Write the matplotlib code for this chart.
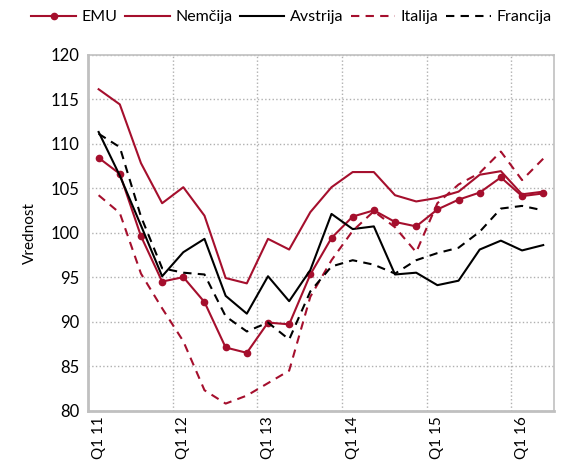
import numpy as np
import matplotlib
matplotlib.use('Agg')
import matplotlib.pyplot as plt

plt.rcParams['font.family'] = ['Lato', 'DejaVu Sans']

# Quarters Q1 11 .. Q2 16
quarters = ['Q1 11', 'Q2 11', 'Q3 11', 'Q4 11',
            'Q1 12', 'Q2 12', 'Q3 12', 'Q4 12',
            'Q1 13', 'Q2 13', 'Q3 13', 'Q4 13',
            'Q1 14', 'Q2 14', 'Q3 14', 'Q4 14',
            'Q1 15', 'Q2 15', 'Q3 15', 'Q4 15',
            'Q1 16', 'Q2 16']

emu = [108.4, 106.6, 99.6, 94.5, 95.0, 92.2, 87.1, 86.5, 89.9, 89.7, 95.3,
       99.4, 101.8, 102.5, 101.2, 100.7, 102.6, 103.7, 104.5, 106.2, 104.1, 104.4]
nemcija = [116.1, 114.4, 107.8, 103.3, 105.1, 101.9, 94.9, 94.3, 99.3, 98.1, 102.3,
           105.1, 106.8, 106.8, 104.2, 103.5, 103.9, 104.6, 106.5, 106.9, 104.3, 104.6]
avstrija = [111.3, 106.4, 100.8, 95.1, 97.8, 99.3, 92.9, 90.9, 95.1, 92.3, 95.8,
            102.1, 100.4, 100.7, 95.3, 95.5, 94.1, 94.6, 98.1, 99.1, 98.0, 98.6]
italija = [104.2, 102.2, 95.4, 91.5, 87.8, 82.3, 80.8, 81.7, 83.1, 84.5, 92.8,
           96.9, 100.2, 102.4, 100.6, 97.8, 103.3, 105.4, 106.7, 109.1, 105.9, 108.3]
francija = [111.1, 109.6, 101.8, 96.0, 95.5, 95.3, 90.6, 88.9, 89.9, 88.0, 93.4,
            96.2, 96.9, 96.4, 95.4, 96.9, 97.7, 98.3, 100.1, 102.7, 103.0, 102.5]

red = '#a50f2d'
x = np.arange(len(quarters))

fig = plt.figure(figsize=(5.68, 4.62), dpi=100)
ax = fig.add_axes([0.155, 0.111, 0.82, 0.771])

ax.plot(x, emu, color=red, lw=1.5, marker='o', ms=4.5, label='EMU')
ax.plot(x, nemcija, color=red, lw=1.5, label='Nemčija')
ax.plot(x, avstrija, color='black', lw=1.5, label='Avstrija')
ax.plot(x, italija, color=red, lw=1.5, ls=(0, (4, 3)), label='Italija')
ax.plot(x, francija, color='black', lw=1.5, ls=(0, (4, 3)), label='Francija')

ax.set_xlim(-0.5, len(quarters) - 0.5)
ax.set_ylim(80, 120)
ax.set_yticks(np.arange(80, 121, 5))
ax.set_xticks(x[::4])
ax.set_xticklabels(quarters[::4], rotation=90)
ax.set_xticks(np.arange(3.5, len(quarters), 4), minor=True)
ax.tick_params(axis='y', which='both', length=0, labelsize=12, pad=6)
ax.tick_params(axis='x', which='both', length=0, labelsize=11, pad=4)
ax.grid(axis='y', which='major', ls=':', color='#b0b0b0', lw=1)
ax.grid(axis='x', which='minor', ls=':', color='#b0b0b0', lw=1)
for s in ax.spines.values():
    s.set_color('#c0c0c0')
    s.set_linewidth(1.2)
ax.spines['left'].set_linewidth(2)
ax.spines['bottom'].set_linewidth(2)

ax.set_ylabel('Vrednost', fontsize=11, labelpad=10)

fig.legend(loc='center', bbox_to_anchor=(0.513, 0.963), ncol=5, frameon=False,
           fontsize=11.5, handlelength=2.8, columnspacing=0.45, handletextpad=0.35,
           borderaxespad=0, borderpad=0)

fig.savefig('out.png', dpi=100)
